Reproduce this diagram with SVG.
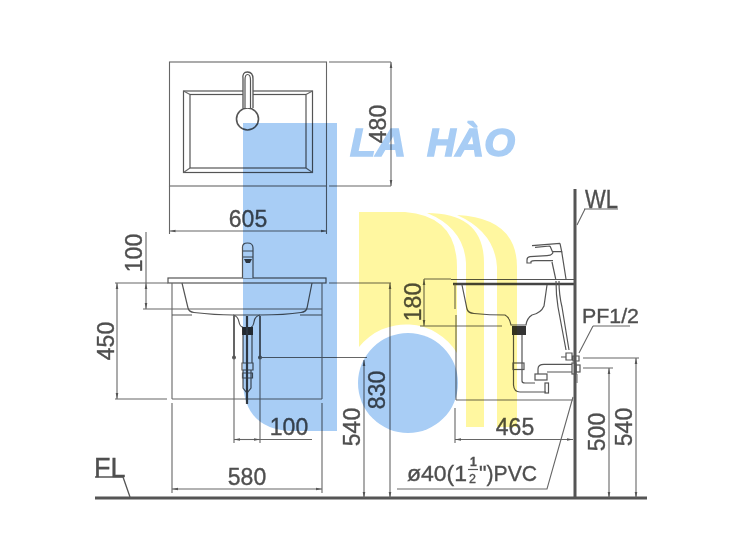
<svg xmlns="http://www.w3.org/2000/svg" width="750" height="560" viewBox="0 0 750 560">
<style>
text{font-family:"Liberation Sans",Arial,sans-serif;fill:#4f4f4f;stroke:#4f4f4f;stroke-width:.35}
.d{font-size:23px;text-anchor:middle}
.l{fill:none;stroke:#666;stroke-width:1.100}
.o{fill:none;stroke:#555;stroke-width:1.200}
.b{fill:none;stroke:#555;stroke-width:1.800}
.dim{marker-start:url(#a);marker-end:url(#e)}
.y{fill:#fff7a0;mix-blend-mode:multiply}
.c{fill:#a8cdf5;mix-blend-mode:multiply}
.w{font-size:39px;font-weight:bold;font-style:italic;fill:#a8cdf5;stroke:#a8cdf5;stroke-width:1.500;mix-blend-mode:multiply}
</style>
<defs>
<marker id="e" markerWidth="7" markerHeight="5" refX="6" refY="2" orient="auto" markerUnits="userSpaceOnUse"><path d="M0 0.7L6 2L0 3.3z" fill="#555"/></marker>
<marker id="a" markerWidth="7" markerHeight="5" refX="0" refY="2" orient="auto" markerUnits="userSpaceOnUse"><path d="M6 0.7L0 2L6 3.3z" fill="#555"/></marker>
</defs>
<rect width="750" height="560" fill="#fff"/>

<g id="top-view">
<rect class="l" x="169.500" y="62" width="157" height="124"/>
<rect class="o" x="183.500" y="91" width="129" height="81.500"/>
<rect class="o" x="190" y="94.500" width="116" height="73.500"/>
<path class="l" d="M183.500 91L190 94.500M312.500 91L306 94.500M183.500 172.500L190 168M312.500 172.500L306 168"/>
<circle cx="247.500" cy="119" r="11" fill="#fff" stroke="#555" stroke-width="1.600"/>
<path d="M243 108V79Q242 72 247.500 72Q253 72 253 79V108" fill="#fff" stroke="#555" stroke-width="1.300"/>
<path class="o" d="M245 108V80Q245 74.500 247.500 74.500Q250.500 74.500 250.500 80V108"/>
</g>

<g id="front-view">
<rect class="o" x="168" y="278" width="158" height="5"/>
<path class="l" d="M172 283V399M322 283V399M172 309H322M172 399H322"/>
<path class="o" d="M182 283L188 308Q189 312 194 312.500Q215 315 233 315H260Q285 315 301 312.500Q306 312 307 308L312 283"/>
<path class="o" d="M172 315H192M300 315H322"/>
<path d="M242.500 278V248Q242 243 247.500 243Q253 243 253 248V278" fill="#fff" stroke="#555" stroke-width="1.200"/>
<path class="o" d="M243 251H253M243 257H253"/>
<path d="M244 259H252L250 263H246z" fill="#444"/>
<path class="o" d="M233 315Q238 316 239 322Q240 327 243 327M260 315Q255 316 254 322Q253 327 251 327"/>
<rect x="242" y="327" width="11" height="8" fill="#333"/>
<path class="b" d="M234 316V357M260 316V357"/>
<circle cx="234" cy="357.500" r="2" fill="#555"/>
<circle cx="260" cy="357.500" r="2" fill="#555"/>
<path class="o" d="M243 335V363M252 335V363M242 363H253V370H242zM242.500 373H252.500V378H242.500zM243 370V388L247 393L251 388V370"/>
<path d="M247 316V404" fill="none" stroke="#444" stroke-width="2.200"/>
</g>

<g id="side-view">
<path d="M451 279.500H575" fill="none" stroke="#555" stroke-width="1.200"/>
<path d="M453 284H575" fill="none" stroke="#444" stroke-width="2.400"/>
<path class="l" d="M455 284V309M456 315V400M456 400H573"/>
<path class="o" d="M462 285L467 309Q468 313 474 313.500Q490 315 505 315Q510 318 511 325H526Q527 318 532 315Q541 313 544 306L547 285"/>
<rect x="512" y="326" width="14" height="9" fill="#333"/>
<path class="o" d="M513.500 335V385Q514 392 520 392H546M522 335V381Q522 383 525 383H535"/>
<rect class="o" x="513" y="363" width="11" height="6.500"/>
<rect class="o" x="535" y="374" width="12" height="6"/>
<path class="o" d="M538 374V369Q538 364.300 544 364.300H572M547 372H572"/>
<rect class="o" x="545" y="383" width="3.500" height="10"/>
<rect class="o" x="572" y="363" width="4" height="11"/>
<rect class="o" x="576" y="365" width="4" height="7"/>
<path d="M532 245.700L560 243.300M535 247.300L550 246M550 246L553 253M560 243.300L561.700 251.700H553" class="o"/>
<path class="o" d="M547 255.700L530 256.700Q527 257 527 260V263H531V261.500Q532 260.700 535 260.700H553M547 255.700Q551 255.500 553 253"/>
<path class="o" d="M552 262L555.700 279M561.700 251.700L566 279"/>
<path class="o" d="M556 281Q556 295 558 307L566 350M559 281Q559 295 562 307L569 350"/>
<path class="o" d="M566 353H572V360H566zM561 357H566M573 356H579V361H573z"/>
<path d="M577 374V383" fill="none" stroke="#666"/>
</g>

<g id="floor-wall">
<path d="M95 498H647" fill="none" stroke="#555" stroke-width="3"/>
<path d="M575 189V498" fill="none" stroke="#555" stroke-width="3"/>
</g>

<g id="connectors">
<path class="l" d="M329 62H391M329 186H391M115 283H168M329 283H391M115 399H167M172 403V493M322 403V493M169.500 186V234M326.500 186V234M143 309H172M234 358V443M260 358V443M260 357.500H367M424 279H451M420 326H502M455 408V443M583 358H639M583 368H613M584 209H618M585 209L577 225M593 326H630M593 326L579 353M397 489H547L573 397"/>
<path class="l dim" d="M391 62V186"/>
<path class="l dim" d="M169.500 231H326.500"/>
<path class="l" d="M146 232V283"/>
<path class="l dim" d="M146 283V309"/>
<path class="l dim" d="M117 283V399"/>
<path class="l dim" d="M234 439.500H260"/>
<path class="l" d="M260 439.500H312"/>
<path class="l dim" d="M172 489H322"/>
<path class="l dim" d="M364 360V498"/>
<path class="l dim" d="M390 283V498"/>
<path class="l dim" d="M424 279V326"/>
<path class="l dim" d="M455 439.500H573"/>
<path class="l dim" d="M609 368V498"/>
<path class="l dim" d="M636 358V498"/>
<path d="M95 477H123L130 497" fill="none" stroke="#555" stroke-width="1.300"/>
<path class="o" d="M468 469.500H478"/>
</g>

<g id="labels">
<text class="d" x="248" y="227">605</text>
<text class="d" transform="translate(386 124) rotate(-90)">480</text>
<text class="d" transform="translate(142 253) rotate(-90)">100</text>
<text class="d" transform="translate(114 341) rotate(-90)">450</text>
<text class="d" x="289" y="435">100</text>
<text class="d" x="247" y="485">580</text>
<text class="d" transform="translate(360 427) rotate(-90)">540</text>
<text class="d" transform="translate(385 390) rotate(-90)">830</text>
<text class="d" transform="translate(421 302) rotate(-90)">180</text>
<text class="d" x="515" y="435">465</text>
<text class="d" transform="translate(605 432) rotate(-90)">500</text>
<text class="d" transform="translate(632 427) rotate(-90)">540</text>
<text x="94" y="477" font-size="27">FL</text>
<text x="585" y="208" font-size="25" textLength="33" lengthAdjust="spacingAndGlyphs">WL</text>
<text x="582" y="323" font-size="21" textLength="57" lengthAdjust="spacingAndGlyphs">PF1/2</text>
<text x="407" y="481" font-size="22" textLength="60" lengthAdjust="spacingAndGlyphs">ø40(1</text>
<text x="470" y="466" font-size="12" font-weight="bold">1</text>
<text x="469" y="482.500" font-size="12.500">2</text>
<text x="479" y="481" font-size="22" textLength="58" lengthAdjust="spacingAndGlyphs">")PVC</text>
</g>

<g id="watermark">
<path class="c" d="M243 123H337V431H290Q243 428 243 380z"/>
<circle class="c" cx="408" cy="383" r="50"/>
<path class="y" d="M359 212H405Q457 216 457 267V353A60 60 0 0 0 359 347z"/>
<path class="y" d="M427 213Q484 213 484 263V427H466V263Q464 228 427 213z"/>
<path class="y" d="M457 215Q517 218 517 267V427H497V267Q495 232 457 215z"/>
<text class="w" x="350" y="156" textLength="56" lengthAdjust="spacingAndGlyphs">LA</text>
<text class="w" x="427" y="156" textLength="88" lengthAdjust="spacingAndGlyphs">HÀO</text>
</g>
</svg>
